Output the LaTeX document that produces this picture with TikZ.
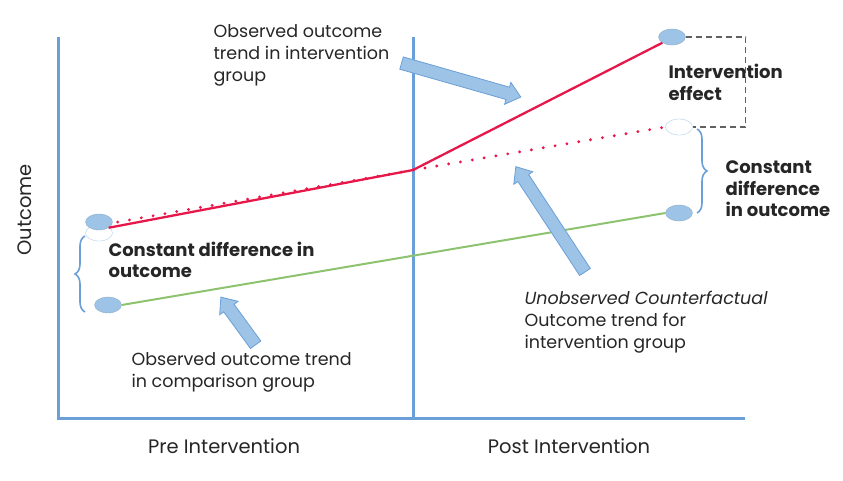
\documentclass[tikz,border=0pt]{standalone}
\usepackage{fontspec}
\setmainfont{Poppins}
\usetikzlibrary{shapes.geometric,shapes.arrows,decorations.pathreplacing}
\definecolor{axisblue}{HTML}{6A9FD8}
\definecolor{dotblue}{HTML}{9DC3E6}
\definecolor{edgeblue}{HTML}{6A9FD8}
\definecolor{trendred}{HTML}{E8174A}
\definecolor{trendgreen}{HTML}{8DC26F}
\definecolor{effectgray}{HTML}{606060}

\begin{document}
\begin{tikzpicture}[x=1pt, y=-1pt,
  every node/.style={font=\fontsize{17.5}{22}\selectfont, text=black!85},
  axis/.style={draw=axisblue, line width=3pt},
  dot/.style={ellipse, fill=dotblue, draw=dotblue!85!black, line width=0.3pt, minimum width=27pt, minimum height=16pt, inner sep=0pt},
  hollowdot/.style={dot, fill=white, draw=dotblue},
  trendline/.style={line width=2.3pt},
  dots/.style={draw=trendred, line width=3.2pt, line cap=round, dash pattern=on 0pt off 12pt},
  bracestyle/.style={draw=axisblue, line width=1.6pt, decorate, decoration={brace, amplitude=10pt}},
  effectbox/.style={draw=effectgray, line width=1.4pt, dash pattern=on 6pt off 4pt},
  blockarrow/.style={single arrow, draw=edgeblue, fill=dotblue, line width=0.8pt, inner xsep=0pt, inner ysep=6pt, single arrow head extend=5pt, single arrow tip angle=80},
  txt/.style={align=left, anchor=west},
  bold/.style={txt, font=\fontsize{18}{21.5}\selectfont\bfseries},
  axislabel/.style={font=\fontsize{19.5}{22}\selectfont}]
\useasboundingbox (0,0) rectangle (843,480);
% axes
\coordinate (origin) at (58,418);
\coordinate (yTop) at (58,37);
\coordinate (xEnd) at (745,418);
\coordinate (cutBot) at (413,418);
\coordinate (cutTop) at (413,37);
\draw[axis] (yTop) -- (origin) -- (xEnd);
\draw[axis] (cutTop) -- (cutBot);
% points
\node[hollowdot] (preCf) at (99,233) {};
\node[dot] (preTop) at (99,222) {};
\node[dot] (preBot) at (108,305) {};
\coordinate (mid) at (413,170);
\node[dot] (postTop) at (672,37) {};
\node[hollowdot] (postCf) at (679,127) {};
\node[dot] (postBot) at (679,213) {};
% trends
\draw[trendline, trendred] (preTop.south east) -- (mid) -- (postTop.south west);
\draw[dots] ([xshift=5pt]preTop.east) -- (mid) -- (postCf.west);
\draw[trendline, trendgreen, line width=2pt] (preBot.east) -- (postBot.west);
% effect and braces
\draw[effectbox] (postTop.east) -- +(60,0) |- (postCf.east);
\coordinate (braceLo) at (85,312);
\coordinate (braceHi) at (85,236);
\draw[bracestyle] (braceLo) -- (braceHi);
\coordinate (braceTop) at (697,129);
\coordinate (braceBot) at (697,213);
\draw[bracestyle] (braceTop) -- (braceBot);
% block arrows
\node[blockarrow, minimum height=124pt, rotate=-15.9] (arrInt) at (457.5,79) {};
\node[blockarrow, minimum height=126pt, rotate=123.3] (arrCf) at (552.5,222.5) {};
\node[blockarrow, minimum height=59pt, rotate=126.1] (arrCmp) at (240.5,324) {};
% labels
\node[txt] (lblInt) at (210,55) {Observed outcome\\trend in intervention\\group};
\node[txt] (lblCmp) at (128,372.5) {Observed outcome trend\\in comparison group};
\node[txt] (lblCf) at (521,322) {\itshape Unobserved Counterfactual\\Outcome trend for\\intervention group};
\node[bold] (lblPre) at (105,260) {Constant difference in\\outcome};
\node[bold] (lblEff) at (665,82.5) {Intervention\\effect};
\node[bold] (lblPost) at (722,189) {Constant\\difference\\in outcome};
\node[axislabel] (preLbl) at (224,446) {Pre Intervention};
\node[axislabel] (postLbl) at (569,446) {Post Intervention};
\node[axislabel, rotate=90] (yLbl) at (25,210) {Outcome};
\end{tikzpicture}
\end{document}
